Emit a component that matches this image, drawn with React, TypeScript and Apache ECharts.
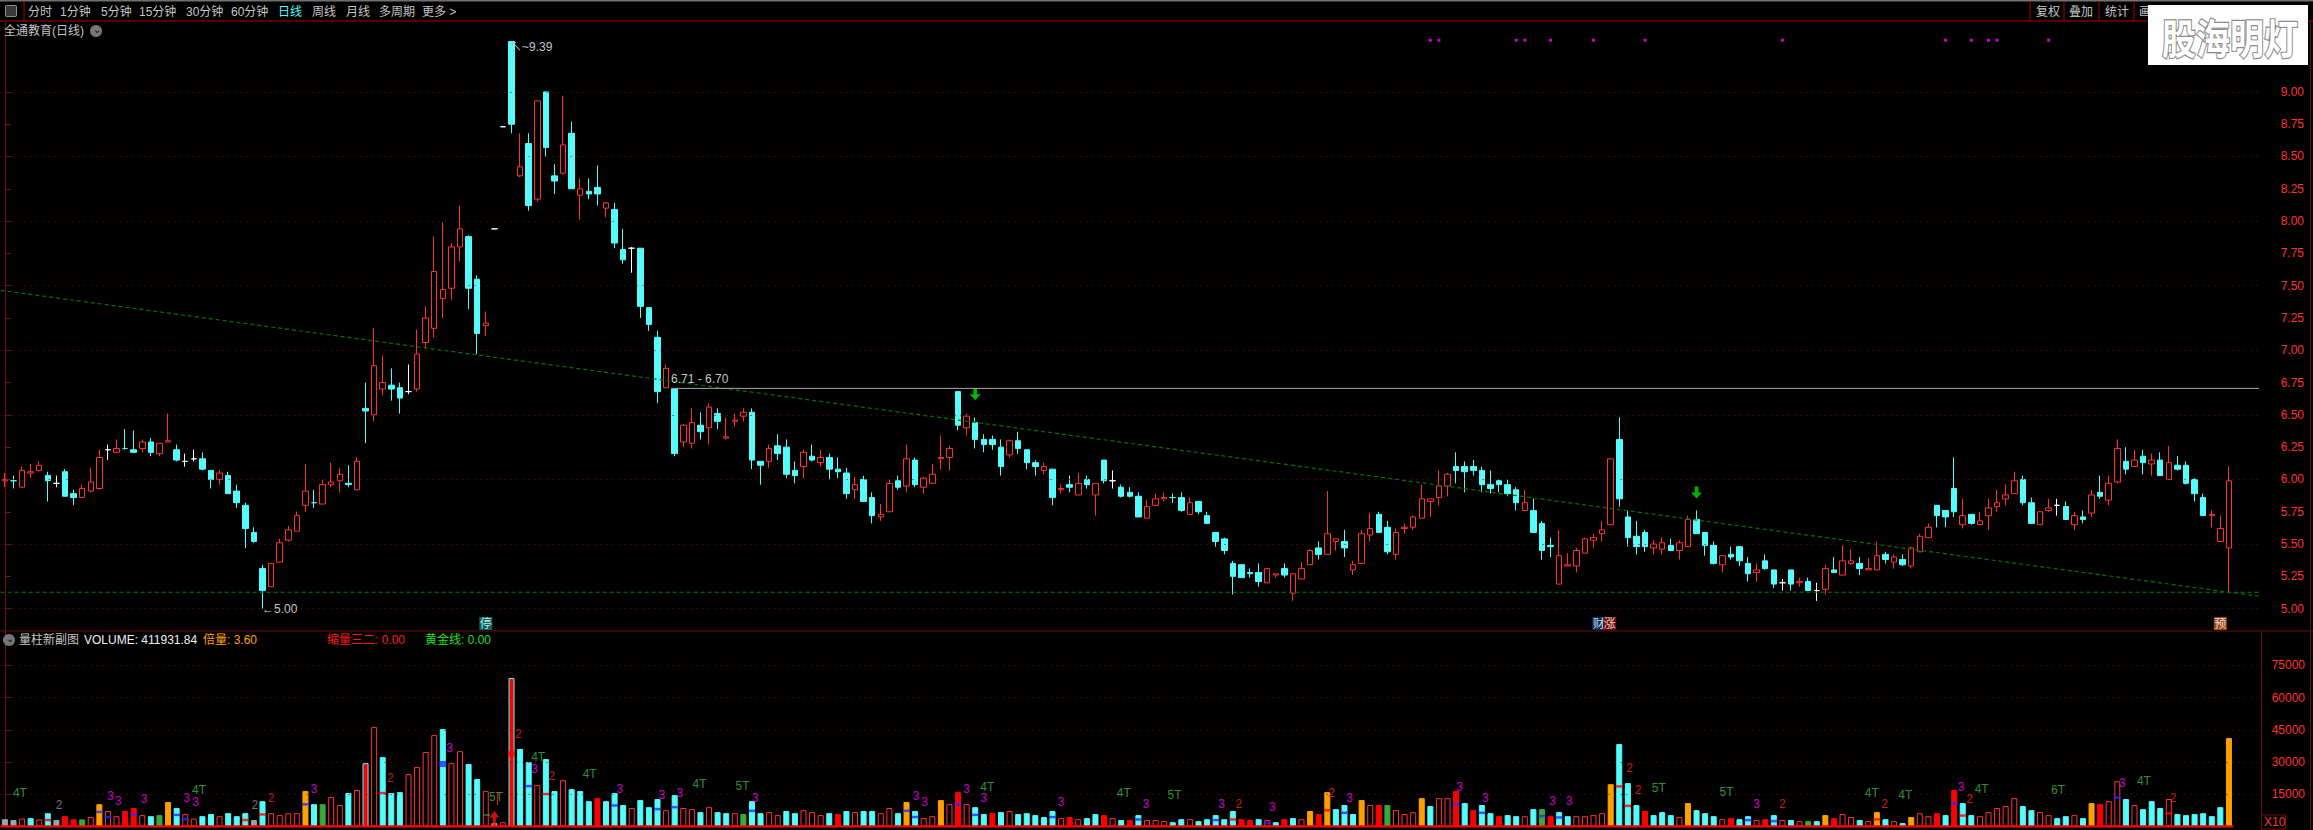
import React, { useEffect, useRef } from "react";
import * as echarts from "echarts";

// ---- candles: r = rising (hollow red), c = falling (cyan), w = doji (white)
const candleKinds = (
  "rcrrrcwccr" + "rrwrccrcrr" + "cwwccrcccc" + "crrrrrcrrr" + "crcrrccwrr" + "rrrrccrwwc" +
  "rcrccrcrcc" + "rccwcccrcr" + "rcrcrrrccr" + "cccrcrcccr" + "ccrrcrcrrr" + "rcrccccrcc" +
  "crcrcrcrcw" + "cccrrrccrc" + "cccccccrrc" + "rrrcrrcrrr" + "ccrrrrrrrc" + "cccccccrcc" +
  "crrrrrrrcc" + "ccrrcrrccc" + "rcccrccwcr" + "cwrcrrcrrc" + "rcrrrcccrc" + "rrrrrccrrw" +
  "crcrcrrcrc" + "rcrccccrrr"
).split("");

const bodyTop = [
  6.00,5.99,6.07,6.06,6.11,6.03,5.97,6.06,5.89,5.93,
  5.98,6.17,6.23,6.24,6.24,6.23,6.29,6.29,6.28,6.30,
  6.23,6.14,6.16,6.16,6.07,6.05,6.03,5.91,5.80,5.59,
  5.31,5.35,5.51,5.61,5.72,5.91,5.82,5.96,5.98,6.04,
  5.97,6.14,6.55,6.88,6.75,6.73,6.71,6.68,6.97,7.25,
  7.61,7.47,7.80,7.94,7.88,7.55,7.21,7.94,8.73,9.39,
  8.42,8.60,8.93,9.00,8.35,8.59,8.68,8.25,8.23,8.26,
  8.14,8.09,7.78,7.79,7.79,7.33,7.10,6.86,6.70,6.42,
  6.44,6.42,6.56,6.51,6.33,6.46,6.52,6.52,6.14,6.24,
  6.26,6.25,6.07,6.21,6.18,6.17,6.17,6.08,6.05,5.96,
  6.00,5.86,5.73,5.97,5.99,6.16,6.15,6.01,6.04,6.17,
  6.24,6.68,6.49,6.44,6.31,6.31,6.25,6.30,6.30,6.23,
  6.13,6.10,6.08,5.93,5.96,5.97,6.00,5.97,6.15,5.99,
  5.94,5.90,5.87,5.79,5.85,5.86,5.86,5.86,5.82,5.83,
  5.72,5.59,5.54,5.35,5.34,5.28,5.28,5.31,5.27,5.31,
  5.27,5.31,5.45,5.47,5.58,5.54,5.52,5.34,5.58,5.62,
  5.73,5.63,5.59,5.63,5.71,5.85,5.85,5.95,6.04,6.10,
  6.10,6.10,6.07,5.96,5.99,5.96,5.92,5.82,5.76,5.66,
  5.49,5.41,5.34,5.45,5.54,5.55,5.61,6.16,6.31,5.71,
  5.56,5.59,5.50,5.51,5.49,5.51,5.69,5.69,5.59,5.49,
  5.41,5.42,5.48,5.35,5.30,5.37,5.30,5.20,5.30,5.21,
  5.21,5.14,5.31,5.30,5.37,5.37,5.35,5.31,5.41,5.42,
  5.40,5.38,5.47,5.56,5.63,5.80,5.76,5.93,5.72,5.73,
  5.68,5.78,5.82,5.88,5.99,6.00,5.82,5.75,5.78,5.80,
  5.79,5.72,5.71,5.88,5.90,5.97,6.24,6.14,6.15,6.18,
  6.15,6.15,6.13,6.11,6.11,6.00,5.86,5.73,5.62,5.99,
];
const bodyBottom = [
  5.99,5.99,5.94,6.05,6.07,5.99,5.97,5.87,5.86,5.86,
  5.91,5.93,6.23,6.21,6.24,6.21,6.24,6.21,6.20,6.29,
  6.15,6.14,6.16,6.08,6.00,6.00,5.89,5.82,5.62,5.52,
  5.14,5.17,5.36,5.53,5.60,5.80,5.82,5.81,5.96,5.99,
  5.96,5.92,6.53,6.50,6.70,6.70,6.63,6.68,6.70,7.06,
  7.17,7.40,7.48,7.80,7.48,7.13,7.19,7.94,8.73,8.75,
  8.35,8.12,8.17,8.57,8.31,8.37,8.25,8.20,8.21,8.21,
  8.10,7.83,7.70,7.79,7.34,7.20,6.68,6.71,6.20,6.29,
  6.28,6.37,6.40,6.45,6.32,6.45,6.49,6.15,6.11,6.14,
  6.20,6.04,6.03,6.10,6.15,6.13,6.08,6.06,5.89,5.92,
  5.83,5.72,5.71,5.75,5.94,5.95,5.96,5.94,5.97,6.16,
  6.17,6.42,6.40,6.31,6.27,6.27,6.10,6.19,6.24,6.13,
  6.10,6.07,5.86,5.92,5.94,5.88,5.96,5.88,5.99,5.99,
  5.87,5.87,5.71,5.70,5.80,5.85,5.86,5.76,5.73,5.75,
  5.66,5.52,5.45,5.25,5.24,5.27,5.21,5.20,5.26,5.26,
  5.12,5.23,5.34,5.42,5.42,5.52,5.47,5.30,5.35,5.57,
  5.59,5.44,5.42,5.62,5.63,5.70,5.83,5.86,5.95,6.07,
  6.06,6.07,5.96,5.93,5.96,5.89,5.82,5.76,5.59,5.45,
  5.48,5.19,5.33,5.33,5.43,5.53,5.58,5.65,5.85,5.55,
  5.48,5.48,5.47,5.46,5.45,5.45,5.48,5.58,5.49,5.35,
  5.34,5.40,5.37,5.27,5.28,5.31,5.19,5.20,5.19,5.20,
  5.14,5.14,5.15,5.28,5.26,5.35,5.31,5.30,5.30,5.38,
  5.36,5.34,5.33,5.44,5.55,5.72,5.71,5.75,5.65,5.66,
  5.65,5.72,5.79,5.85,5.89,5.82,5.66,5.65,5.76,5.80,
  5.69,5.65,5.69,5.74,5.87,5.84,5.98,6.08,6.10,6.13,
  6.12,6.03,6.00,6.08,5.97,5.89,5.72,5.72,5.52,5.47,
];
const highs = [
  6.05,6.03,6.10,6.12,6.14,6.06,6.03,6.08,5.92,5.96,
  6.09,6.23,6.27,6.31,6.39,6.38,6.31,6.32,6.28,6.51,
  6.27,6.20,6.23,6.21,6.07,6.07,6.06,5.96,5.82,5.63,
  5.34,5.35,5.54,5.64,5.75,6.12,5.92,6.00,6.13,6.09,
  6.11,6.17,6.75,7.17,6.96,6.86,6.75,6.89,7.16,7.34,
  7.88,7.99,7.83,8.12,7.89,7.58,7.30,7.94,8.73,9.39,
  8.68,8.68,8.93,9.00,8.44,8.97,8.77,8.33,8.33,8.43,
  8.15,8.14,7.94,7.80,7.79,7.33,7.15,6.89,6.70,6.43,
  6.55,6.52,6.59,6.55,6.48,6.51,6.55,6.55,6.14,6.27,
  6.35,6.31,6.14,6.23,6.27,6.23,6.20,6.17,6.09,6.02,
  6.03,5.90,5.81,6.00,6.03,6.27,6.17,6.02,6.12,6.34,
  6.26,6.68,6.51,6.48,6.35,6.34,6.31,6.31,6.37,6.23,
  6.15,6.13,6.08,5.96,6.03,6.05,6.03,5.97,6.15,6.07,
  5.96,5.94,5.90,5.84,5.89,5.90,5.89,5.90,5.86,5.83,
  5.75,5.59,5.55,5.37,5.34,5.31,5.35,5.31,5.27,5.35,
  5.27,5.36,5.46,5.52,5.91,5.54,5.61,5.37,5.61,5.74,
  5.75,5.68,5.62,5.66,5.72,5.96,5.85,6.07,6.05,6.21,
  6.14,6.15,6.10,6.07,6.00,6.00,5.94,5.92,5.85,5.68,
  5.55,5.61,5.43,5.47,5.55,5.58,5.68,6.16,6.48,5.76,
  5.68,5.61,5.53,5.55,5.54,5.53,5.72,5.76,5.59,5.52,
  5.41,5.48,5.48,5.40,5.35,5.42,5.30,5.23,5.30,5.24,
  5.24,5.20,5.34,5.40,5.49,5.46,5.40,5.39,5.52,5.44,
  5.42,5.42,5.48,5.58,5.66,5.80,5.76,6.17,5.85,5.73,
  5.75,5.85,5.92,5.96,6.06,6.03,5.86,5.75,5.85,5.85,
  5.83,5.75,5.76,5.92,6.03,6.03,6.31,6.25,6.23,6.23,
  6.20,6.21,6.26,6.18,6.14,6.01,5.89,5.76,5.72,6.10,
];
const lows = [
  5.94,5.93,5.94,6.01,6.06,5.83,5.94,5.87,5.80,5.86,
  5.90,5.92,6.15,6.21,6.23,6.21,6.21,6.18,6.18,6.29,
  6.14,6.10,6.14,6.07,5.93,5.96,5.89,5.78,5.47,5.51,
  5.00,5.17,5.36,5.52,5.60,5.75,5.78,5.81,5.94,5.90,
  5.94,5.92,6.28,6.45,6.65,6.61,6.51,6.66,6.68,7.01,
  7.10,7.25,7.39,7.69,7.32,6.97,7.11,7.94,8.73,8.68,
  8.34,8.08,8.15,8.50,8.21,8.36,8.25,8.01,8.17,8.12,
  8.03,7.79,7.67,7.60,7.25,7.15,6.59,6.71,6.18,6.25,
  6.24,6.31,6.27,6.39,6.31,6.41,6.45,6.08,5.96,6.09,
  6.15,6.01,5.97,6.01,6.14,6.10,6.00,6.01,5.85,5.85,
  5.83,5.66,5.68,5.75,5.92,5.90,5.94,5.89,5.97,6.08,
  6.07,6.38,6.34,6.24,6.21,6.23,6.03,6.17,6.20,6.08,
  6.03,6.04,5.80,5.89,5.90,5.88,5.93,5.72,5.97,5.93,
  5.86,5.86,5.71,5.70,5.80,5.83,5.82,5.75,5.73,5.73,
  5.66,5.48,5.42,5.11,5.24,5.24,5.17,5.20,5.24,5.24,
  5.06,5.23,5.34,5.38,5.42,5.45,5.40,5.26,5.35,5.52,
  5.59,5.42,5.38,5.58,5.61,5.70,5.71,5.80,5.87,5.97,
  5.90,6.03,5.90,5.89,5.90,5.87,5.76,5.76,5.59,5.38,
  5.40,5.19,5.33,5.28,5.43,5.47,5.52,5.65,5.79,5.48,
  5.42,5.44,5.42,5.42,5.45,5.38,5.48,5.58,5.41,5.34,
  5.28,5.38,5.33,5.21,5.21,5.30,5.16,5.14,5.14,5.17,
  5.14,5.06,5.11,5.28,5.26,5.34,5.26,5.30,5.30,5.35,
  5.31,5.33,5.31,5.44,5.55,5.63,5.63,5.71,5.62,5.65,
  5.65,5.61,5.75,5.80,5.89,5.80,5.66,5.65,5.75,5.72,
  5.69,5.61,5.66,5.71,5.85,5.80,5.97,6.04,6.10,6.04,
  6.03,6.03,6.00,6.07,5.96,5.83,5.72,5.63,5.52,5.13,
];

// ---- volume: h hollow red, c cyan, R red, X red with cyan edge, O orange, G green, S grey
const volumes = [
  3400,3000,3700,3900,3300,6200,3000,4800,3400,3300,
  4400,10400,7200,4800,7200,8600,5300,4800,5300,11400,
  8600,5800,3700,4800,5800,4800,6200,4800,6200,3000,
  11800,6200,5300,6200,6200,16500,10400,10400,13700,10000,
  15600,17000,29500,46300,32300,15600,16000,24400,27700,34700,
  42600,45400,29500,35100,29100,22100,16500,1600,2000,69200,
  36100,30000,19300,31400,16500,21600,17400,16500,11800,13200,
  11800,15600,10000,8600,12300,9000,12800,7600,14600,8600,
  8100,6700,9000,6700,6200,6200,5800,11800,6200,6700,
  5300,7200,6200,7600,6700,5300,6200,5800,7200,6700,
  7200,7200,6200,8600,6200,11400,7200,3900,4800,12300,
  10400,16000,10400,9000,5800,6200,6700,7200,5800,6200,
  5300,4400,7200,3900,4400,3400,3900,5800,5300,3900,
  3000,3000,5300,3000,3000,2500,2000,3400,3400,2500,
  3400,5300,3400,7200,3400,3000,3400,3000,2000,3400,
  3900,3400,7200,5800,16000,8100,10000,5800,12300,10000,
  10000,10000,7600,5800,6700,13200,9500,13200,13200,16500,
  10900,7600,10000,6200,4800,5300,4800,4800,8100,8100,
  4800,6700,4800,4800,4800,5300,6200,19700,38400,20200,
  10000,7200,5300,6700,5300,4400,10900,7600,6200,4800,
  3400,3900,3400,4800,3000,3400,5300,3000,3000,2500,
  2500,2500,5300,3900,5800,4400,3000,2500,6700,3400,
  2500,1600,4400,6200,4800,6200,5300,17000,10900,5300,
  4800,6700,8600,9500,13200,9500,7600,6700,5300,3900,
  4800,5300,3900,10900,10400,11800,21100,12800,10000,8100,
  11800,8600,12800,5800,5300,5800,6200,4800,9000,41200,
];
const volumeKinds = (
  "SShchcSRRG" + "hOhhRRhcGO" + "chhcchcccS" + "chhhhOcGhh" + "chXhccchhh" + "hchhcchShX" +
  "cchcchcccR" + "ccchccchch" + "hchcchGcch" + "hcchhhcRch" + "cchhcOchhO" + "hRhccRchcc" +
  "ccchRhccRh" + "cRchhhcchc" + "ccccRRchcR" + "chOROcccOh" + "RGhhhOchhR" + "cRccRcchcG" +
  "RcchhhhOcc" + "cRccchOccc" + "hRcchRchch" + "GcORhhchOc" + "hcOhhRcRcc" + "hhhhhcchhc" +
  "chcORhhchc" + "cchccccccO"
).split("");

// bands inside the volume bars
const bandIndex = [5,11,12,15,20,21,28,30,35,44,51,59,61,63,71,76,78,87,105,106,111,113,122,132,141,143,147,154,156,169,172,179,181,188,189,203,206,218,227,228,246,252];
const bandValue = [3000,6800,4400,5400,5400,3400,3000,5600,10300,15600,29100,33900,18800,15100,9800,8100,9000,7300,7300,4400,10300,5400,4400,3300,3000,3300,1700,7600,6400,10300,6400,4800,4200,18700,9600,3000,2500,3300,10700,5100,13500,6100];
const bandKind = "rbbbbbrrbrBRbrbbbbbbbbbbbrbrbbbbbrrbbrbrbr".split("");

// text marks in the volume panel
const noteIndex = [1.75,6.3,12.3,13.2,16.2,21.2,22.6,22.2,29.1,31,36,44.9,51.8,57.2,59.8,62.1,61.7,63.7,68.1,71.6,76.5,78.6,80.9,85.9,87.4,106.1,107.1,112,114.4,114,123,130.3,132.9,136.2,141.7,143.7,147.6,154.5,156.6,169.4,172.4,180.25,182.2,189.2,190.2,192.6,200.5,204,207,217.4,218.9,221.3,227.8,230.2,228.8,239.1,246.6,249.1,252.5];
const noteValue = [15400,10100,14300,12000,12600,13100,16800,11200,10100,13400,17600,22700,36700,13700,43200,32200,26600,23600,24300,17300,14900,15700,19600,18700,13400,14300,11200,17700,18500,13100,11200,15400,10300,14900,10700,10700,8900,15400,13100,18200,13500,12000,11700,27400,17100,18000,16300,10300,10300,15400,10300,14500,18200,17700,12600,16800,20100,21000,13100];
const noteText = ["4T","2","3","3","3","3","4T","3","2","2","3","2","3","5T","2","4T","3","2","4T","3","3","3","4T","5T","3","3","3","3","4T","3","3","4T","3","5T","3","2","3","2","3","3","3","3","3","2","2","5T","5T","3","2","4T","2","4T","3","4T","2","6T","3","4T","2"];
const noteGrey = [1, 8];

// signal marks in the price panel
const dotIndex = [166,167,176,177,180,185,191,207,226,229,231,232,238];
const dotPrice = 9.40;
const downArrowIndex = [113, 197];
const downArrowPrice = [6.66, 5.90];
const upArrowIndex = [57];
const upArrowValue = [3700];
const badgeIndex = [56, 185.6, 186.9, 258];
const badgeText = ["停", "财", "涨", "预"];
const badgeColor = ["#008080", "#0a3a78", "#8a0c0c", "#c0561a"];
const badgePrice = 4.885;

// drawn lines
const trendX = [-0.5, 262.5];
const trendPrice = [7.464, 5.096];
const supportPrice = 5.127;
const resistanceX = [77.6, 262.5];
const resistancePrice = 6.705;
const baseX = [-0.5, 259.5];

// axes
const priceTicks = [5,5.25,5.5,5.75,6,6.25,6.5,6.75,7,7.25,7.5,7.75,8,8.25,8.5,8.75,9];
const priceGrid = [5,5.5,6,6.5,7,7.5,8,8.5,9];
const volumeTicks = [15000,30000,45000,60000,75000];
const slots = Array.from({ length: 263 }, (_, i) => String(i));

const menuLeft: [string, number, string?][] = [
  ["分时", 28], ["1分钟", 60], ["5分钟", 101], ["15分钟", 139], ["30分钟", 186], ["60分钟", 231],
  ["日线", 278, "#54fcfc"], ["周线", 312], ["月线", 346], ["多周期", 379], ["更多 >", 422],
];
const menuRight: [string, number][] = [["复权", 2036], ["叠加", 2069], ["统计", 2105], ["画", 2139]];
const menuSeparators = [2030, 2064, 2099, 2134];

const CYAN = "#54fcfc";
const RED = "#ff3232";
const FONT = '"Liberation Sans","Noto Sans CJK SC",sans-serif';
const GREY = "#c4c4c4";
const GRID_LINE = { type: [1, 5] as number[], color: "#6a1010", width: 1 };

const txt = (text: string, x: number, y: number, fill: string, size = 12, extra: any = {}) => ({
  type: "text", silent: true, x, y, z: 50,
  style: { text, fill, font: `${size}px ${FONT}`, verticalAlign: "middle", ...extra },
});
const vline = (x: number, y1: number, y2: number, stroke: string) => ({
  type: "line", silent: true, z: 40, shape: { x1: x, y1, x2: x, y2 }, style: { stroke, lineWidth: 1 },
});
const hline = (y: number, x1: number, x2: number, stroke: string) => ({
  type: "line", silent: true, z: 40, shape: { x1, y1: y, x2, y2: y }, style: { stroke, lineWidth: 1 },
});

function candleStyle(kind: string) {
  const c = kind === "r" ? RED : kind === "c" ? CYAN : "#ffffff";
  const fill = kind === "r" ? "#000000" : c;
  return { color: fill, color0: fill, borderColor: c, borderColor0: c, borderColorDoji: c, borderWidth: 1 };
}
function volumeStyle(kind: string) {
  switch (kind) {
    case "h": return { color: "#000000", borderColor: RED, borderWidth: 1 };
    case "c": return { color: CYAN, borderColor: CYAN, borderWidth: 1 };
    case "R": return { color: "#ff0000", borderColor: "#ff0000", borderWidth: 1 };
    case "X": return { color: "#ff0000", borderColor: CYAN, borderWidth: 1 };
    case "O": return { color: "#ffa000", borderColor: "#ffa000", borderWidth: 1 };
    case "G": return { color: "#3aa83a", borderColor: "#3aa83a", borderWidth: 1 };
    default: return { color: "#8fa9ad", borderColor: "#8fa9ad", borderWidth: 1 };
  }
}
function noteColor(text: string, i: number) {
  if (noteGrey.includes(i)) return "#909090";
  if (text.endsWith("T")) return "#3fb83f";
  return text === "2" ? "#ff2020" : "#ff00ff";
}

export default function App() {
  const ref = useRef<HTMLDivElement>(null);
  useEffect(() => {
    const chart = echarts.init(ref.current!, undefined, { renderer: "svg" });
    const candleData = candleKinds.map((k, i) => ({
      value: k === "r"
        ? [bodyBottom[i], bodyTop[i], lows[i], highs[i]]
        : [bodyTop[i], bodyBottom[i], lows[i], highs[i]],
      itemStyle: candleStyle(k),
    }));
    const option: any = {
      animation: false,
      backgroundColor: "#000000",
      grid: [
        { left: 0.6, right: 54, top: 22, height: 609, containLabel: false },
        { left: 0.6, right: 54, top: 631, height: 195.5, containLabel: false },
      ],
      xAxis: [
        { type: "category", gridIndex: 0, data: slots, show: false },
        { type: "category", gridIndex: 1, data: slots, show: false },
        { type: "value", gridIndex: 0, min: -0.5, max: 262.5, show: false },
        { type: "value", gridIndex: 1, min: -0.5, max: 262.5, show: false },
      ],
      yAxis: [
        {
          type: "value", gridIndex: 0, position: "right", min: 4.827, max: 9.541, splitLine: { show: false },
          axisLine: { show: true, lineStyle: { color: "#7a1212" } },
          axisTick: { show: true, length: 6, lineStyle: { color: "#7a1212" }, customValues: priceTicks },
          axisLabel: { customValues: priceTicks, color: RED, fontSize: 12, fontFamily: FONT, align: "right", margin: 45, formatter: (v: number) => v.toFixed(2) },
        },
        {
          type: "value", gridIndex: 1, position: "right", min: 0, max: 91071, splitLine: { show: false },
          axisLine: { show: true, lineStyle: { color: "#7a1212" } },
          axisTick: { show: true, length: 6, lineStyle: { color: "#7a1212" }, customValues: volumeTicks },
          axisLabel: { customValues: volumeTicks, color: RED, fontSize: 12, fontFamily: FONT, align: "right", margin: 46, formatter: (v: number) => String(v) },
        },
      ],
      series: [
        {
          type: "candlestick", xAxisIndex: 0, yAxisIndex: 0, barWidth: 6, data: candleData,
          markLine: {
            silent: true, symbol: ["none", "none"], label: { show: false }, lineStyle: GRID_LINE, animation: false,
            data: priceGrid.map((v) => ({ yAxis: v })),
          },
        },
        {
          type: "line", name: "trend", xAxisIndex: 2, yAxisIndex: 0, showSymbol: false, symbol: "none", silent: true,
          lineStyle: { color: "#007400", width: 1.2, type: [4, 3] },
          data: trendX.map((x, i) => [x, trendPrice[i]]),
        },
        {
          type: "line", name: "support", xAxisIndex: 2, yAxisIndex: 0, symbol: "none", silent: true,
          lineStyle: { color: "#008000", width: 1.2, type: [4, 3] },
          data: trendX.map((x) => [x, supportPrice]),
        },
        {
          type: "line", name: "resistance", xAxisIndex: 2, yAxisIndex: 0, symbol: "none", silent: true,
          lineStyle: { color: "#a8a8a8", width: 1 },
          data: resistanceX.map((x) => [x, resistancePrice]),
        },
        {
          type: "scatter", name: "dots", xAxisIndex: 0, yAxisIndex: 0, symbol: "rect", symbolSize: 3, silent: true,
          itemStyle: { color: "#ff00ff" },
          data: dotIndex.map((i) => [i, dotPrice]),
        },
        {
          type: "scatter", name: "sell", xAxisIndex: 2, yAxisIndex: 0, symbol: "path://M4 0h4v6h4L6 12 0 6h4z", symbolSize: [11, 12], silent: true,
          itemStyle: { color: "#00e000" },
          data: downArrowIndex.map((x, i) => [x, downArrowPrice[i]]),
        },
        {
          type: "scatter", name: "badges", xAxisIndex: 2, yAxisIndex: 0, symbolSize: 1, silent: true,
          itemStyle: { color: "transparent" },
          data: badgeIndex.map((x, i) => ({
            value: [x, badgePrice],
            label: {
              show: true, position: "inside", formatter: badgeText[i], color: "#ffffff", fontSize: 12,
              fontFamily: FONT, backgroundColor: badgeColor[i], padding: [0, 0.5], lineHeight: 13,
            },
          })),
        },
        {
          type: "bar", xAxisIndex: 1, yAxisIndex: 1, barWidth: 6, silent: true,
          data: volumes.map((v, i) => ({ value: v, itemStyle: volumeStyle(volumeKinds[i]) })),
          markLine: {
            silent: true, symbol: ["none", "none"], label: { show: false }, lineStyle: GRID_LINE, animation: false,
            data: volumeTicks.map((v) => ({ yAxis: v })),
          },
        },
        {
          type: "scatter", name: "bands", xAxisIndex: 1, yAxisIndex: 1, symbol: "rect", silent: true, z: 5,
          data: bandIndex.map((idx, i) => ({
            value: [idx, bandValue[i]],
            symbolSize: bandKind[i] === "B" || bandKind[i] === "R" ? [7, 6] : [7, 2.5],
            itemStyle: { color: bandKind[i].toLowerCase() === "b" ? "#2a2aff" : "#ff0000" },
          })),
        },
        {
          type: "scatter", name: "notes", xAxisIndex: 3, yAxisIndex: 1, symbolSize: 1, silent: true, z: 6,
          itemStyle: { color: "transparent" },
          data: noteIndex.map((x, i) => ({
            value: [x, noteValue[i]],
            label: {
              show: true, position: "inside", formatter: noteText[i], color: noteColor(noteText[i], i),
              fontSize: 12, fontFamily: FONT,
            },
          })),
        },
        {
          type: "scatter", name: "buy", xAxisIndex: 3, yAxisIndex: 1, symbol: "path://M5 0L10 7H6.5V16H3.5V7H0z", symbolSize: [10, 15], silent: true, z: 6,
          itemStyle: { color: "#ff1010" },
          data: upArrowIndex.map((x, i) => [x, upArrowValue[i]]),
        },
        {
          type: "line", name: "base", xAxisIndex: 3, yAxisIndex: 1, symbol: "none", silent: true, z: 7,
          lineStyle: { color: "#ff0000", width: 2.5 },
          data: baseX.map((x) => [x, 0]),
        },
      ],
      graphic: [
        { type: "rect", silent: true, z: 30, shape: { x: 0, y: 0, width: 2313, height: 1.5 }, style: { fill: "#707070" } },
        hline(21, 0, 2313, "#b00000"),
        hline(631, 0, 2313, "#6a0f0f"),
        vline(24, 1, 21, "#b00000"),
        vline(2310.5, 21, 830, "#6a0f0f"),
        vline(2261.5, 631, 830, "#6a0f0f"),
        vline(497.7, 792, 805, "#ff2020"),
        hline(815, 483, 490, "#3fb83f"),
        ...menuSeparators.map((x) => vline(x, 1, 21, "#b00000")),
        { type: "rect", silent: true, z: 40, shape: { x: 5.5, y: 5.5, width: 11, height: 11, r: 1 }, style: { fill: "#3a3a3a", stroke: "#909090" } },
        ...menuLeft.map(([t, x, c]) => txt(t, x, 11.5, c || GREY)),
        ...menuRight.map(([t, x]) => txt(t, x, 11.5, GREY)),
        txt("全通教育(日线)", 4, 31, GREY),
        { type: "circle", silent: true, z: 40, shape: { cx: 96, cy: 31, r: 6 }, style: { fill: "#777777" } },
        txt("⌄", 92.5, 29, "#111111", 10),
        txt("↖~9.39", 510, 47, GREY),
        txt("←5.00", 262, 609, GREY),
        txt("6.71 - 6.70", 671, 379, GREY),
        { type: "circle", silent: true, z: 40, shape: { cx: 9, cy: 640, r: 6 }, style: { fill: "#777777" } },
        txt("⌄", 5.5, 638, "#111111", 10),
        txt("量柱新副图", 19, 640, GREY),
        txt("VOLUME: 411931.84", 84, 640, "#f0f0f0"),
        txt("倍量: 3.60", 203, 640, "#ffa000"),
        txt("缩量三二: 0.00", 327, 640, "#ff1a1a"),
        txt("黄金线: 0.00", 425, 640, "#20e020"),
        { type: "rect", silent: true, z: 40, shape: { x: 2261.5, y: 815, width: 24, height: 14 }, style: { fill: "#000000", stroke: "#6a0f0f" } },
        txt("X10", 2264, 822, RED),
        { type: "rect", silent: true, z: 60, shape: { x: 2148, y: 5, width: 160, height: 60 }, style: { fill: "#ffffff" } },
        {
          type: "text", silent: true, z: 61, x: 2162, y: 36, scaleY: 1.2,
          style: { text: "股海明灯", fill: "#ffffff", stroke: "#8c8c8c", lineWidth: 2, font: `bold 34px "Noto Sans CJK SC",sans-serif`, verticalAlign: "middle" },
        },
      ],
    };
    chart.setOption(option);
    return () => chart.dispose();
  }, []);
  return (
    <div
      ref={ref}
      style={{ position: "fixed", left: 0, top: 0, width: 2313, height: 830, background: "#000" }}
    />
  );
}
